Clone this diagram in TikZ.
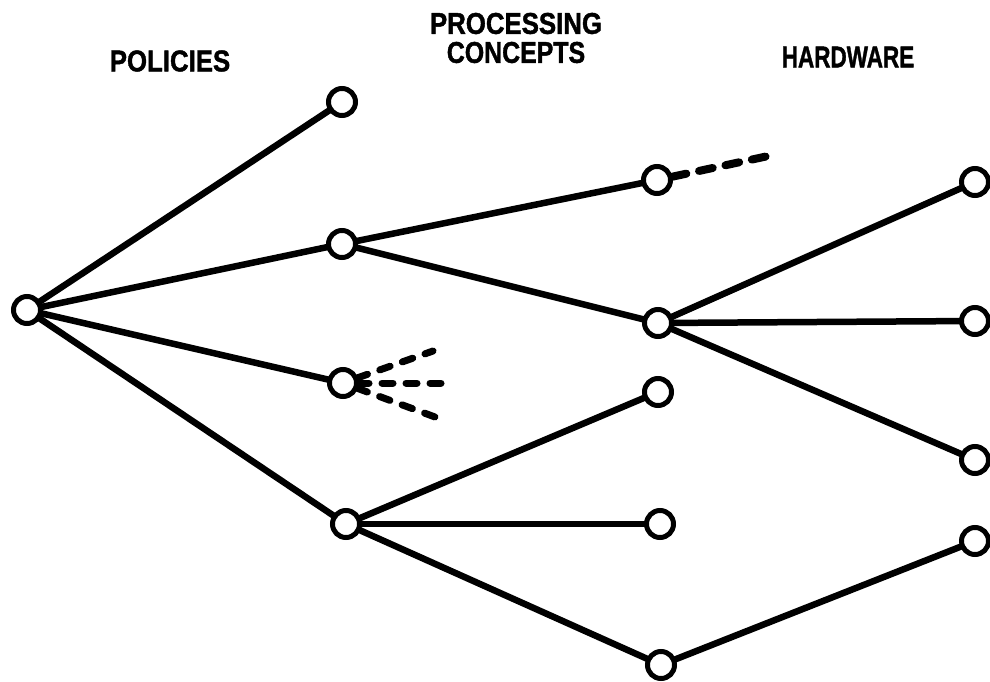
\documentclass[tikz,border=0pt]{standalone}
\usepackage{fontspec}
\setmainfont{Liberation Sans}
\newfontfamily\heavyfont[FakeBold=1.5]{Liberation Sans Bold}
\usetikzlibrary{calc}
\begin{document}
\begin{tikzpicture}[x=1pt,y=-1pt,
  nd/.style={circle,draw,line width=5pt,fill=white,minimum size=27pt,inner sep=0pt},
  edge/.style={line width=6.5pt},
  dsh/.style={line width=8pt,line cap=round,dash pattern=on 14pt off 13pt},
  dshthin/.style={line width=7pt,line cap=round,dash pattern=on 11pt off 13pt},
  lbl/.style={font=\fontsize{30}{29}\selectfont\heavyfont,inner sep=0pt,align=center}]
\useasboundingbox (0,0) rectangle (990,682);
\fill[white] (0,0) rectangle (990,682);
% labels
\node[lbl] (lp) at (170,61) {\scalebox{0.86}[1]{POLICIES}};
\node[lbl] (lc) at (516,38) {\scalebox{0.86}[1]{PROCESSING}\\\scalebox{0.83}[1]{CONCEPTS}};
\node[lbl] (lh) at (848,57) {\scalebox{0.75}[1]{HARDWARE}};
% coordinates
\coordinate (r) at (27,310);
\coordinate (p1) at (342,102);
\coordinate (p2) at (342,244);
\coordinate (p3) at (343,383);
\coordinate (p4) at (346,524);
\coordinate (c1) at (657,180);
\coordinate (c2) at (658,323);
\coordinate (c3) at (658,392);
\coordinate (c4) at (660,524);
\coordinate (c5) at (661,665);
\coordinate (h1) at (975,182);
\coordinate (h2) at (975,321);
\coordinate (h3) at (975,460);
\coordinate (h4) at (975,541);
\coordinate (d1) at (773,155);
\coordinate (d2) at (433,351);
\coordinate (d3) at (442,383);
\coordinate (d4) at (435,417);
% edges
\draw[edge] (r) -- (p1);
\draw[edge] (r) -- (p2);
\draw[edge] (r) -- (p3);
\draw[edge] (r) -- (p4);
\draw[edge] (p2) -- (c1);
\draw[edge] (p2) -- (c2);
\draw[edge] (p4) -- (c3);
\draw[edge] (p4) -- (c4);
\draw[edge] (p4) -- (c5);
\draw[edge] (c2) -- (h1);
\draw[edge] (c2) -- (h2);
\draw[edge] (c2) -- (h3);
\draw[edge] (c5) -- (h4);
% dashed
\draw[dsh] ($(c1)!16pt!(d1)$) -- (d1);
\draw[dshthin] ($(p3)!15pt!(d2)$) -- (d2);
\draw[dshthin] ($(p3)!15pt!(d3)$) -- (d3);
\draw[dshthin] ($(p3)!15pt!(d4)$) -- (d4);
% nodes
\foreach \n in {r,p1,p2,p3,p4,c1,c2,c3,c4,c5,h1,h2,h3,h4}
  \node[nd] (n\n) at (\n) {};
\end{tikzpicture}
\end{document}
